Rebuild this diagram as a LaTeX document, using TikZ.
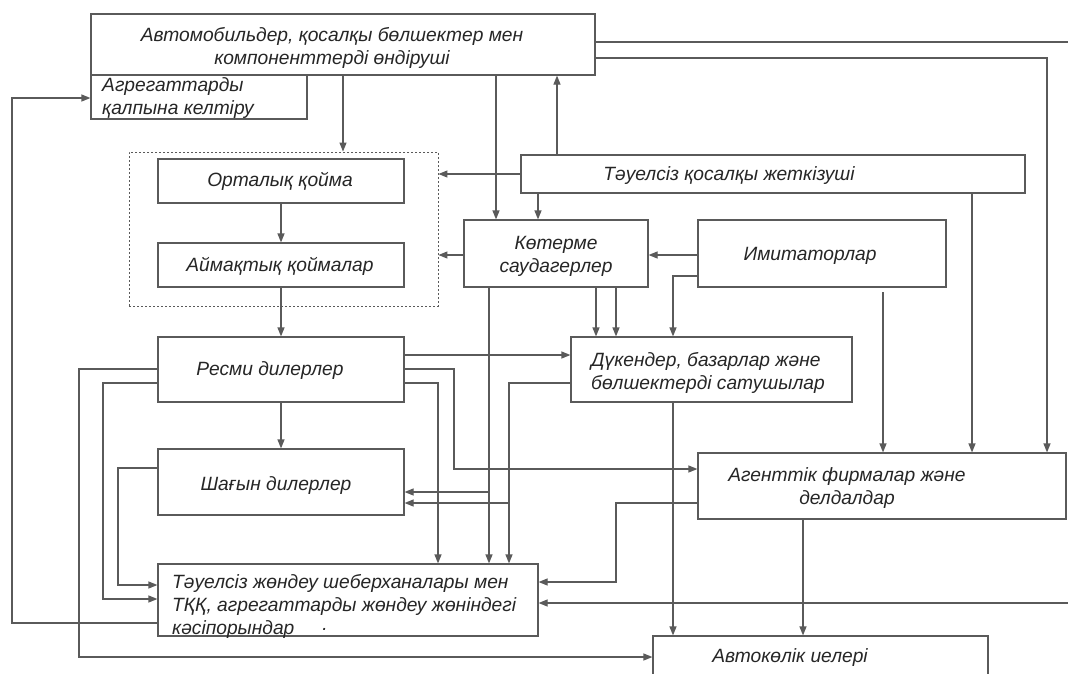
\documentclass[tikz,border=0pt]{standalone}
\usepackage{fontspec}
\setmainfont{Liberation Sans}
\usetikzlibrary{arrows.meta}
\definecolor{lc}{HTML}{5A5A5A}
\definecolor{tc}{HTML}{262626}
\begin{document}
\begin{tikzpicture}[x=1pt,y=-1pt,
  box/.style={draw=lc,line width=1.2pt,inner sep=0pt},
  lbl/.style={font=\fontsize{19.2}{23}\selectfont\itshape,text=tc,inner sep=0pt,align=center},
  arr/.style={draw=lc,line width=1.2pt,-{Triangle[length=9pt,width=7pt]}},
  ln/.style={draw=lc,line width=1.2pt}]
\fill[white] (0,0) rectangle (1068,673);
\clip (0,0) rectangle (1068,673);
% boxes
\node[box,minimum width=504,minimum height=61] (mfr) at (343,44.5) {};
\node[box,minimum width=216,minimum height=44] (agg) at (199,97) {};
\node[draw=lc,line width=0.9pt,dash pattern=on 2pt off 2pt,inner sep=0pt,minimum width=309,minimum height=154] (grp) at (283.5,229) {};
\node[box,minimum width=246,minimum height=44] (central) at (281,181) {};
\node[box,minimum width=246,minimum height=44] (regional) at (281,265) {};
\node[box,minimum width=504,minimum height=38] (supplier) at (773,174) {};
\node[box,minimum width=184,minimum height=67] (wholesale) at (556,253.5) {};
\node[box,minimum width=248,minimum height=67] (imit) at (822,253.5) {};
\node[box,minimum width=246,minimum height=65] (official) at (281,369.5) {};
\node[box,minimum width=281,minimum height=65] (shops) at (711.5,369.5) {};
\node[box,minimum width=246,minimum height=66] (small) at (281,482) {};
\node[box,minimum width=368,minimum height=66] (agent) at (882,486) {};
\node[box,minimum width=380,minimum height=72] (repair) at (348,600) {};
\node[box,minimum width=335,minimum height=68] (owners) at (820.5,670) {};
% texts
\node[lbl] (tmfr) at (332,47.5) {Автомобильдер, қосалқы бөлшектер мен\\компоненттерді өндіруші};
\node[lbl,anchor=west,align=left] (tagg) at (102,98.5) {Агрегаттарды\\қалпына келтіру};
\node[lbl] (tcentral) at (280,181) {Орталық қойма};
\node[lbl] (tregional) at (280,266) {Аймақтық қоймалар};
\node[lbl] (tsupplier) at (729,176) {Тәуелсіз қосалқы жеткізуші};
\node[lbl] (twholesale) at (556,256) {Көтерме\\саудагерлер};
\node[lbl] (timit) at (810,256) {Имитаторлар};
\node[lbl] (tofficial) at (270,371) {Ресми дилерлер};
\node[lbl,anchor=west,align=left] (tshops) at (591,373) {Дүкендер, базарлар және\\бөлшектерді сатушылар};
\node[lbl] (tsmall) at (276,486) {Шағын дилерлер};
\node[lbl] (tagent) at (847,488) {Агенттік фирмалар және\\делдалдар};
\node[lbl,anchor=west,align=left] (trepair) at (172,606) {Тәуелсіз жөндеу шеберханалары мен\\ТҚҚ, агрегаттарды жөндеу жөніндегі\\кәсіпорындар};
\node[lbl] (towners) at (790,658) {Автокөлік иелері};
\node[lbl] (tdot) at (325,629) {.};
% connectors
\draw[arr] (mfr.south) -- (mfr.south |- grp.north);
\draw[arr] (central.south) -- (regional.north);
\draw[arr] (regional.south) -- (official.north);
\draw[arr] (official.south) -- (small.north);
\draw[arr] (496,0 |- mfr.south) -- (496,0 |- wholesale.north);
\draw[arr] (557,0 |- supplier.north) -- (557,0 |- mfr.south);
\draw[arr] (supplier.west) -- (supplier.west -| grp.east);
\draw[arr] (538,0 |- supplier.south) -- (538,0 |- wholesale.north);
\draw[arr] (972,0 |- supplier.south) -- (972,0 |- agent.north);
\coordinate (e1) at (1068,42);
\draw[ln] (mfr.east |- e1) -- (e1);
\coordinate (k1) at (1047,58);
\draw[arr] (mfr.east |- k1) -- (k1) -- (k1 |- agent.north);
\draw[arr] (wholesale.west |- 0,255) -- (grp.east |- 0,255);
\draw[arr] (imit.west |- 0,255) -- (wholesale.east |- 0,255);
\draw[arr] (imit.west |- 0,276) -- (673,276) -- (673,0 |- shops.north);
\draw[arr] (596,0 |- wholesale.south) -- (596,0 |- shops.north);
\draw[arr] (616,0 |- wholesale.south) -- (616,0 |- shops.north);
\coordinate (i1) at (883,292);
\draw[arr] (i1) -- (i1 |- agent.north);
\draw[arr] (489,0 |- wholesale.south) -- (489,0 |- repair.north);
\draw[arr] (489,492) -- (small.east |- 0,492);
\draw[arr] (shops.west |- 0,383) -- (509,383) -- (509,0 |- repair.north);
\draw[arr] (509,503) -- (small.east |- 0,503);
\draw[arr] (official.east |- 0,355) -- (shops.west |- 0,355);
\draw[arr] (official.east |- 0,369) -- (454,369) -- (454,469) -- (agent.west |- 0,469);
\draw[arr] (official.east |- 0,383) -- (438,383) -- (438,0 |- repair.north);
\draw[arr] (official.west |- 0,369) -- (79,369) -- (79,657) -- (owners.west |- 0,657);
\draw[arr] (official.west |- 0,383) -- (103,383) -- (103,599) -- (repair.west |- 0,599);
\draw[arr] (small.west |- 0,468) -- (118,468) -- (118,585) -- (repair.west |- 0,585);
\draw[arr] (repair.west |- 0,623) -- (12,623) -- (12,98) -- (agg.west |- 0,98);
\draw[arr] (673,0 |- shops.south) -- (673,0 |- owners.north);
\draw[arr] (agent.west |- 0,503) -- (616,503) -- (616,582) -- (repair.east |- 0,582);
\coordinate (e2) at (1068,603);
\draw[arr] (e2) -- (repair.east |- e2);
\draw[arr] (803,0 |- agent.south) -- (803,0 |- owners.north);
\end{tikzpicture}
\end{document}
